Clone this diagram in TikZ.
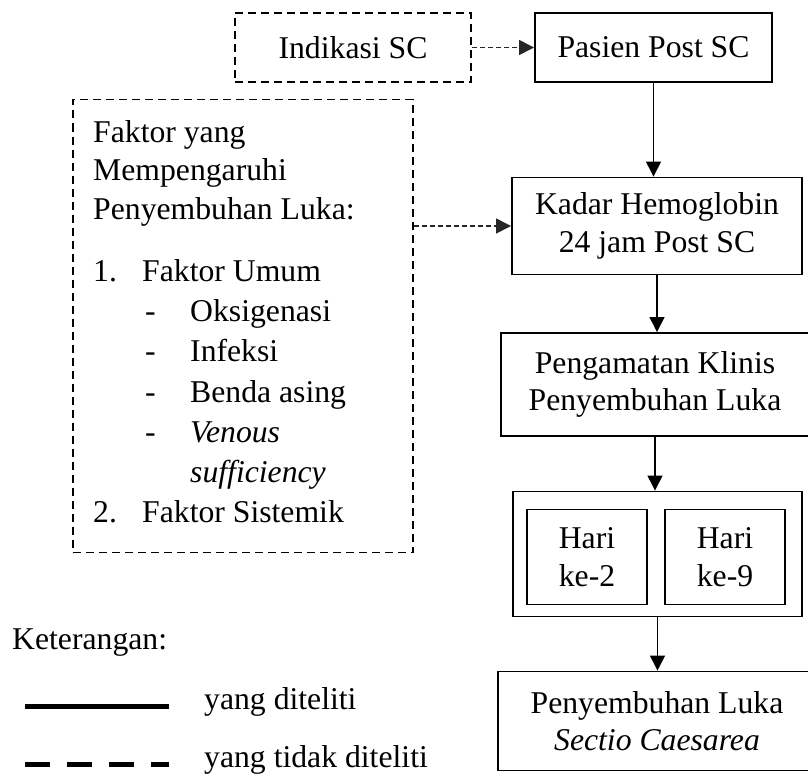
\documentclass[tikz,border=0pt]{standalone}
\usepackage{fontspec}
\setmainfont{Liberation Serif}
\usetikzlibrary{arrows.meta}
\begin{document}
\begin{tikzpicture}[x=1pt,y=-1pt,
  every node/.style={font=\fontsize{31.7}{37.5}\selectfont, inner sep=0pt},
  solidbox/.style={draw, line width=1.9pt, align=center, anchor=center},
  dashbox/.style={draw, line width=1.9pt, dash pattern=on 8pt off 5pt, align=center, anchor=center},
  flow/.style={line width=1.3pt, -{Triangle[length=15pt,width=15pt]}},
  dflow/.style={line width=1.3pt, black!85, dash pattern=on 5pt off 3pt, -{Triangle[length=15pt,width=15pt]}},
  txt/.style={anchor=base west}]
\useasboundingbox (0,0) rectangle (808,776);

% top row
\node[dashbox, minimum width=236pt, minimum height=69pt] (ind) at (353,47.5) {Indikasi SC};
\node[solidbox, minimum width=237pt, minimum height=69pt] (pas) at (653.5,47.5) {Pasien Post SC};

% factor box
\node[dashbox, minimum width=340pt, minimum height=453pt] (fak) at (243,326) {};
\node[txt] (f1) at (93,142) {Faktor yang};
\node[txt] (f2) at (93,180.5) {Mempengaruhi};
\node[txt] (f3) at (93,219) {Penyembuhan Luka:};
\node[txt] (n1) at (93,281) {1.};
\node[txt] (i1) at (142,281) {Faktor Umum};
\node[txt] (d1) at (145,321) {-};
\node[txt] (s1) at (190,321) {Oksigenasi};
\node[txt] (d2) at (145,361.5) {-};
\node[txt] (s2) at (190,361.5) {Infeksi};
\node[txt] (d3) at (145,402) {-};
\node[txt] (s3) at (190,402) {Benda asing};
\node[txt] (d4) at (145,442.5) {-};
\node[txt] (s4) at (190,442.5) {\itshape Venous};
\node[txt] (s5) at (190,482.5) {\itshape sufficiency};
\node[txt] (n2) at (93,522) {2.};
\node[txt] (i2) at (142,522) {Faktor Sistemik};

% right column
\node[solidbox, minimum width=290pt, minimum height=97pt] (kad) at (657,226) {Kadar Hemoglobin\\24 jam Post SC};
\node[solidbox, minimum width=308pt, minimum height=103pt] (pen) at (655,384.5) {Pengamatan Klinis\\Penyembuhan Luka};
\node[solidbox, minimum width=289pt, minimum height=125pt] (out) at (657.5,554) {};
\node[solidbox, minimum width=120pt, minimum height=95pt] (h2) at (587,557) {Hari\\ke-2};
\node[solidbox, minimum width=120pt, minimum height=95pt] (h9) at (725,557) {Hari\\ke-9};
\node[solidbox, minimum width=318pt, minimum height=99pt] (sec) at (657,721) {Penyembuhan Luka\\\itshape Sectio Caesarea};

% connectors
\draw[dflow] (ind.east) -- (pas.west);
\draw[dflow] (kad.west -| fak.east) -- (kad.west);
\draw[flow] (pas.south) -- (pas.south |- kad.north);
\draw[flow] (kad.south) -- (kad.south |- pen.north);
\draw[flow] (pen.south) -- (pen.south |- out.north);
\draw[flow] (out.south) -- (out.south |- sec.north);

% legend
\node[txt] (ket) at (12,649) {Keterangan:};
\coordinate (la) at (25,706);
\coordinate (lb) at (169,706);
\draw[line width=5pt] (la) -- (lb);
\node[txt] (lt1) at (204,709) {yang diteliti};
\coordinate (lc) at (25,764);
\coordinate (ld) at (169,764);
\draw[line width=5pt, dash pattern=on 25pt off 17pt] (lc) -- (ld);
\node[txt] (lt2) at (204,767) {yang tidak diteliti};
\end{tikzpicture}
\end{document}
